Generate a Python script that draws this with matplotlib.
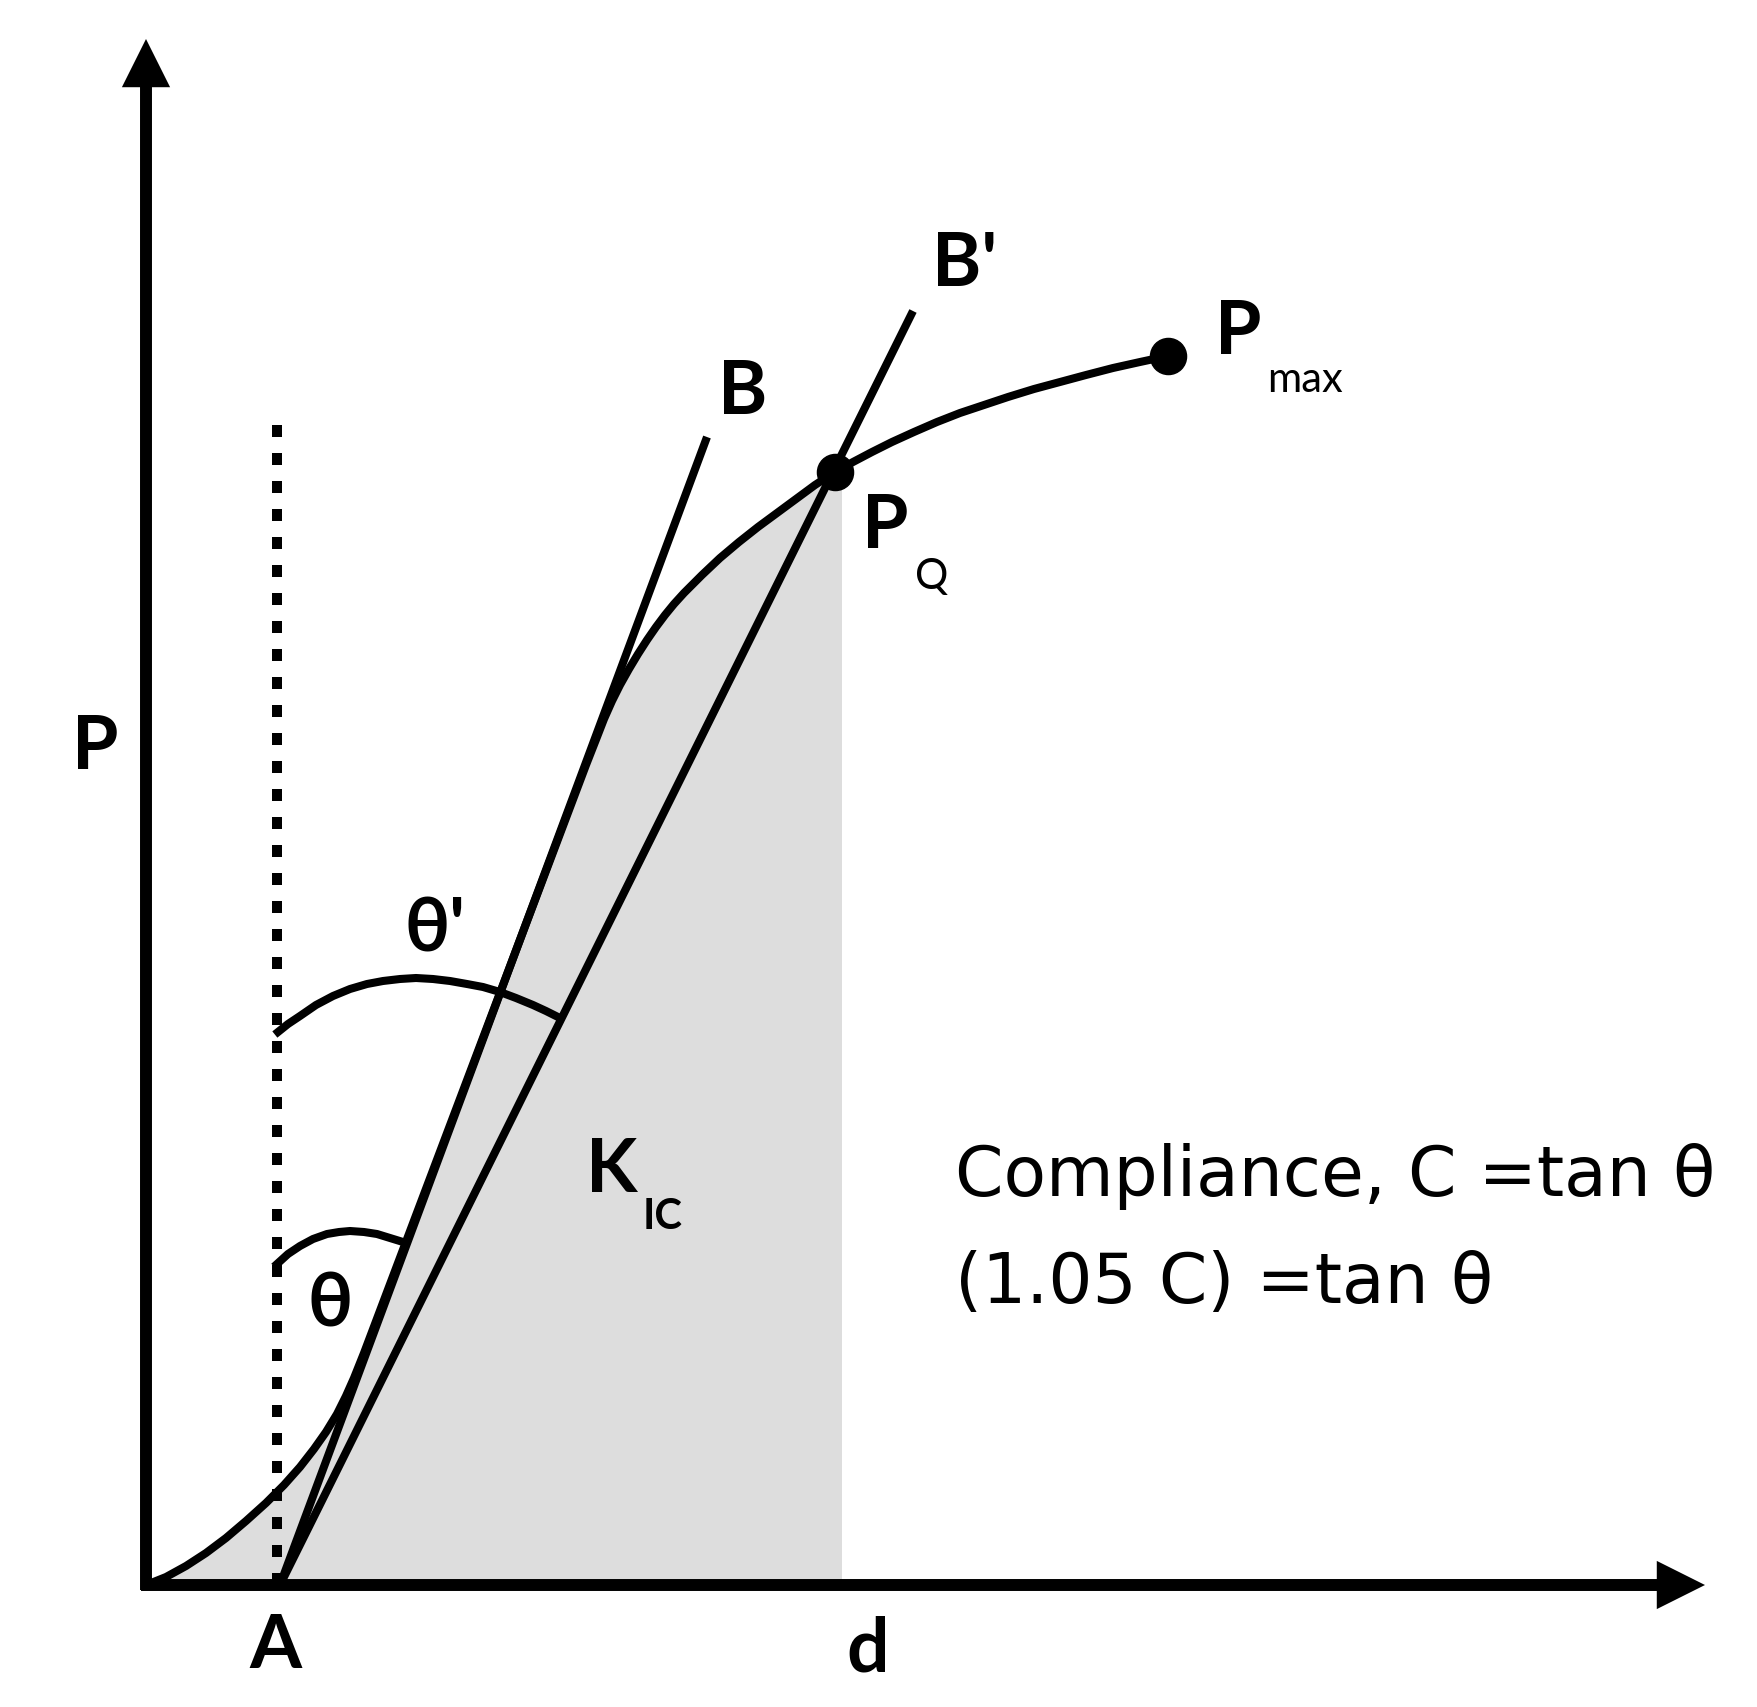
import matplotlib.pyplot as plt

# load-displacement curve (arbitrary units, origin at the axis corner)
curve_d = [0, 20, 40, 60, 80, 100, 120, 138, 154, 168, 180, 191, 200, 208, 218, 440,
           451, 458, 466, 474, 483, 492, 501, 510, 519, 528, 538, 556, 574, 593,
           612, 631, 650, 669, 689, 707, 726, 746, 768, 791, 814, 838, 862, 888,
           914, 940, 967, 994, 1022]
curve_p = [0, 8, 19, 32, 47, 64, 82, 100, 118, 136, 153, 171, 189, 207, 232, 820,
           848, 866, 884, 900, 916, 931, 945, 958, 970, 981, 992, 1010, 1027, 1043,
           1058, 1072, 1086, 1100, 1113, 1123, 1133, 1143, 1153, 1163, 1172, 1180, 1188, 1196,
           1203, 1210, 1217, 1223, 1229]

point_a = (134, 0)
point_b = (561, 1148)
point_b2 = (767, 1274)
point_pq = (689, 1113)
point_pmax = (1022, 1229)
shade_edge = 696
dotted_x = 131
dotted_top = 1160

theta_d = [131, 142, 154, 167, 181, 193, 204, 218, 231, 244, 257]
theta_p = [321, 331, 339, 346, 351, 353, 354, 353, 351, 347, 343]
theta2_d = [132, 142, 154, 170, 187, 204, 221, 237, 254, 270, 287, 304, 321,
            337, 354, 370, 387, 400, 412]
theta2_p = [553, 561, 569, 580, 589, 596, 601, 604, 606, 607, 606, 604, 601,
            598, 593, 587, 580, 574, 568]

LW_AX = 8.6
LW = 5.8
BOLD = dict(family=["Lato", "DejaVu Sans"], fontweight="bold")
REG = dict(family=["Lato", "DejaVu Sans"])

fig = plt.figure(figsize=(17.57, 17.08), dpi=100)
ax = fig.add_axes((0, 0, 1, 1))
ax.set_xlim(-146, 1611)
ax.set_ylim(-122, 1586)
ax.axis("off")

# shaded area under the curve up to P_Q
n_pq = curve_d.index(point_pq[0]) + 1
ax.fill(curve_d[:n_pq] + [shade_edge, shade_edge, 0],
        curve_p[:n_pq] + [point_pq[1], 0, 0],
        color="#dddddd", lw=0, zorder=1)

# axes with arrow heads
arrow = dict(arrowstyle="-|>,head_length=0.4,head_width=0.2", lw=LW_AX,
             color="black", shrinkA=0, shrinkB=0, mutation_scale=52,
             joinstyle="miter", capstyle="butt")
ax.annotate("", xy=(0, 1546), xytext=(0, -5), arrowprops=arrow, zorder=5)
ax.annotate("", xy=(1559, 0), xytext=(-5, 0), arrowprops=arrow, zorder=5)

# dotted vertical through A
ax.plot([dotted_x, dotted_x], [0, dotted_top], color="black", lw=7.2,
        dashes=(1.2, 1.6), dash_capstyle="butt", zorder=3)

# tangent lines
ax.plot([point_a[0], point_b[0]], [point_a[1], point_b[1]], color="black",
        lw=LW, solid_capstyle="butt", zorder=4)
ax.plot([point_a[0], point_b2[0]], [point_a[1], point_b2[1]], color="black",
        lw=LW, solid_capstyle="butt", zorder=4)

# curve and points
ax.plot(curve_d, curve_p, color="black", lw=LW, solid_joinstyle="round", zorder=4)
ax.plot(*point_pq, "o", color="black", ms=26, zorder=6)
ax.plot(*point_pmax, "o", color="black", ms=26, zorder=6)

# angle arcs
ax.plot(theta_d, theta_p, color="black", lw=LW, solid_joinstyle="round", zorder=4)
ax.plot(theta2_d, theta2_p, color="black", lw=LW, solid_joinstyle="round", zorder=4)

# labels
ax.text(-51, 838, "P", fontsize=54, ha="center", va="center", **BOLD)
ax.text(129, -61, "A", fontsize=54, ha="center", va="center", **BOLD)
ax.text(722, -64, "d", fontsize=54, ha="center", va="center", **BOLD)
ax.text(597, 1193, "B", fontsize=54, ha="center", va="center", **BOLD)
ax.text(819, 1321, "B'", fontsize=54, ha="center", va="center", **BOLD)
ax.text(739, 1059, "P", fontsize=54, ha="center", va="center", **BOLD)
ax.text(786, 1009, "Q", fontsize=30, ha="center", va="center", **REG)
ax.text(1092, 1254, "P", fontsize=54, ha="center", va="center", **BOLD)
ax.text(1159, 1206, "max", fontsize=30, ha="center", va="center", **REG)
ax.text(289, 656, "θ'", fontsize=54, ha="center", va="center", **BOLD)
ax.text(184, 281, "θ", fontsize=54, ha="center", va="center", **BOLD)
ax.text(466, 416, "K", fontsize=54, ha="center", va="center", **BOLD)
ax.text(517, 369, "IC", fontsize=30, ha="center", va="center", **BOLD)

ax.text(809, 409, "Compliance, C =tan θ", fontsize=50, ha="left", va="center",
        family="DejaVu Sans")
ax.text(809, 303, "(1.05 C) =tan θ", fontsize=50, ha="left", va="center",
        family="DejaVu Sans")

fig.savefig("out.png", dpi=100)
